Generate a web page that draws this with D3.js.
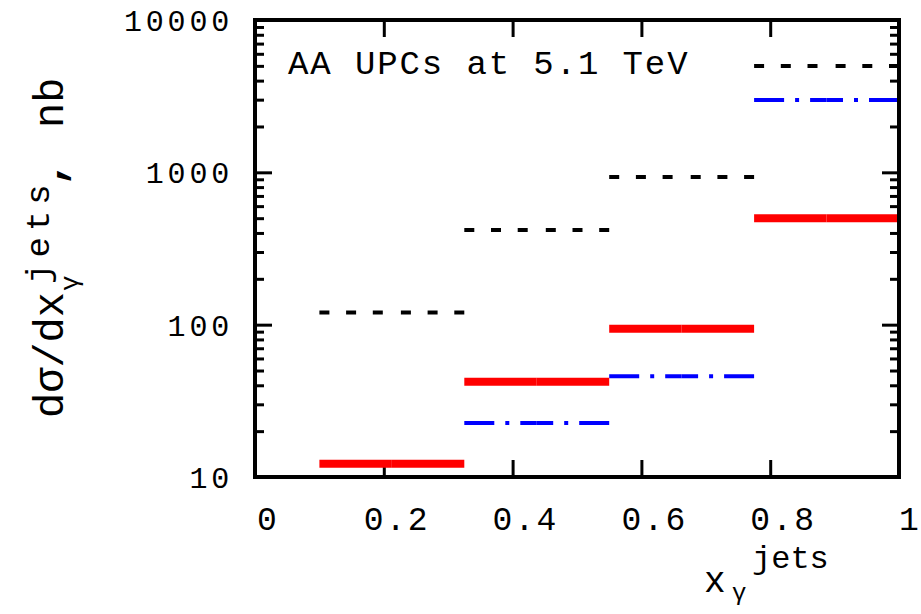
<!DOCTYPE html>
<html>
<head>
<meta charset="utf-8">
<script src="https://cdn.jsdelivr.net/npm/d3@7"></script>
<style>
  body { margin: 0; background: #fff; }
  svg { display: block; }
  text { font-family: "Liberation Mono", "DejaVu Sans Mono", monospace; fill: #000; }
</style>
</head>
<body>
<svg width="921" height="614"></svg>
<script>
// bin edges in x_gamma^jets
const binEdges = [0.1, 0.325, 0.55, 0.775, 1.0]
// cross sections per bin, nb
const blackDashed = [120, 418, 931, 4990]
const redSolid = [12.2, 42.2, 94, 499]
const blueDashDot = [null, 22.6, 45.9, 2985]

const xTicks = [0, 0.2, 0.4, 0.6, 0.8, 1]
const xTickLabels = ['0', '0.2', '0.4', '0.6', '0.8', '1']
const yTicks = [10, 100, 1000, 10000]
const yTickLabels = ['10', '100', '1000', '10000']

const svg = d3.select('svg')
const frame = { left: 255, right: 899, top: 20, bottom: 477 }

const x = d3.scaleLinear().domain([0, 1]).range([frame.left, frame.right])
const y = d3.scaleLog().domain([10, 10000]).range([frame.bottom, frame.top])

// minor ticks 2..9 in every decade
const minorTicks = []
for (let d = 10; d < 10000; d *= 10) {
  for (let k = 2; k <= 9; k++) minorTicks.push(d * k)
}

const styleAxis = (g) => {
  g.select('.domain').remove()
  g.selectAll('.tick line').attr('stroke', '#000').attr('stroke-width', 3)
}

// left axis, ticks pointing inward
svg.append('g')
  .attr('transform', `translate(${frame.left},0)`)
  .call(d3.axisLeft(y).tickValues(yTicks).tickSize(-17).tickFormat(() => ''))
  .call(styleAxis)
svg.append('g')
  .attr('transform', `translate(${frame.left},0)`)
  .call(d3.axisLeft(y).tickValues(minorTicks).tickSize(-9).tickFormat(() => ''))
  .call(styleAxis)
// right axis
svg.append('g')
  .attr('transform', `translate(${frame.right},0)`)
  .call(d3.axisRight(y).tickValues(yTicks).tickSize(-17).tickFormat(() => ''))
  .call(styleAxis)
svg.append('g')
  .attr('transform', `translate(${frame.right},0)`)
  .call(d3.axisRight(y).tickValues(minorTicks).tickSize(-9).tickFormat(() => ''))
  .call(styleAxis)
// bottom and top axes
svg.append('g')
  .attr('transform', `translate(0,${frame.bottom})`)
  .call(d3.axisBottom(x).tickValues(xTicks.slice(1, -1)).tickSize(-17).tickFormat(() => ''))
  .call(styleAxis)
svg.append('g')
  .attr('transform', `translate(0,${frame.top})`)
  .call(d3.axisTop(x).tickValues(xTicks.slice(1, -1)).tickSize(-17).tickFormat(() => ''))
  .call(styleAxis)

// tick labels
svg.append('g').selectAll('text')
  .data(yTicks)
  .join('text')
  .attr('x', frame.left - 22)
  .attr('y', (d) => y(d) + 11)
  .attr('text-anchor', 'end')
  .style('font-size', '30px')
  .style('letter-spacing', '3.8px')
  .text((d, i) => yTickLabels[i])

svg.append('g').selectAll('text')
  .data(xTicks)
  .join('text')
  .attr('x', (d) => Math.min(x(d) + 13, 910))
  .attr('y', 530)
  .attr('text-anchor', 'middle')
  .style('font-size', '33px')
  .style('letter-spacing', '2.2px')
  .text((d, i) => xTickLabels[i])

// each bin drawn as two halves, from the edges towards the centre
const drawSeries = (values, color, width, dash) => {
  const segs = []
  values.forEach((v, i) => {
    if (v == null) return
    const x0 = binEdges[i], x1 = binEdges[i + 1], xc = (x0 + x1) / 2
    segs.push([[x0, v], [xc, v]])
    segs.push([[x1, v], [xc, v]])
  })
  const line = d3.line().x((d) => x(d[0])).y((d) => y(d[1]))
  svg.append('g').selectAll('path')
    .data(segs)
    .join('path')
    .attr('d', line)
    .attr('fill', 'none')
    .attr('stroke', color)
    .attr('stroke-width', width)
    .attr('stroke-linecap', 'butt')
    .attr('stroke-dasharray', dash)
}

drawSeries(redSolid, '#ff0000', 8, null)
drawSeries(blueDashDot, '#0000ff', 4, '30,11,4,11')
drawSeries(blackDashed, '#000', 4, '10,16.7')

// frame
svg.append('rect')
  .attr('x', frame.left).attr('y', frame.top)
  .attr('width', frame.right - frame.left).attr('height', frame.bottom - frame.top)
  .attr('fill', 'none')
  .attr('stroke', '#000')
  .attr('stroke-width', 4)

// title
svg.append('text')
  .attr('x', 288).attr('y', 74)
  .style('font-family', '"Courier New", "Nimbus Mono PS", "Liberation Mono", monospace')
  .style('font-size', '34px')
  .style('letter-spacing', '1.9px')
  .text('AA UPCs at 5.1 TeV')

// x axis label
const xl = svg.append('g').attr('transform', 'translate(704,592)')
xl.append('text').style('font-size', '36px').text('x')
xl.append('text').attr('x', 28).attr('y', 8).style('font-size', '24px').text('γ')
xl.append('text').attr('x', 48).attr('y', -24).style('font-size', '32px').text('jets')

// y axis label, rotated
const yl = svg.append('g').attr('transform', 'translate(63,418) rotate(-90)')
yl.append('text').style('font-size', '42px').text('dσ/dx')
yl.append('text').attr('x', 127).attr('y', 15).style('font-size', '26px').text('γ')
yl.append('text').attr('x', 134).attr('y', -14).style('font-size', '34px')
  .style('letter-spacing', '6px').text('jets')
yl.append('text').attr('x', 232).style('font-size', '42px')
  .style('font-weight', 'bold').text(',')
yl.append('text').attr('x', 290).style('font-size', '42px').text('nb')
</script>
</body>
</html>
